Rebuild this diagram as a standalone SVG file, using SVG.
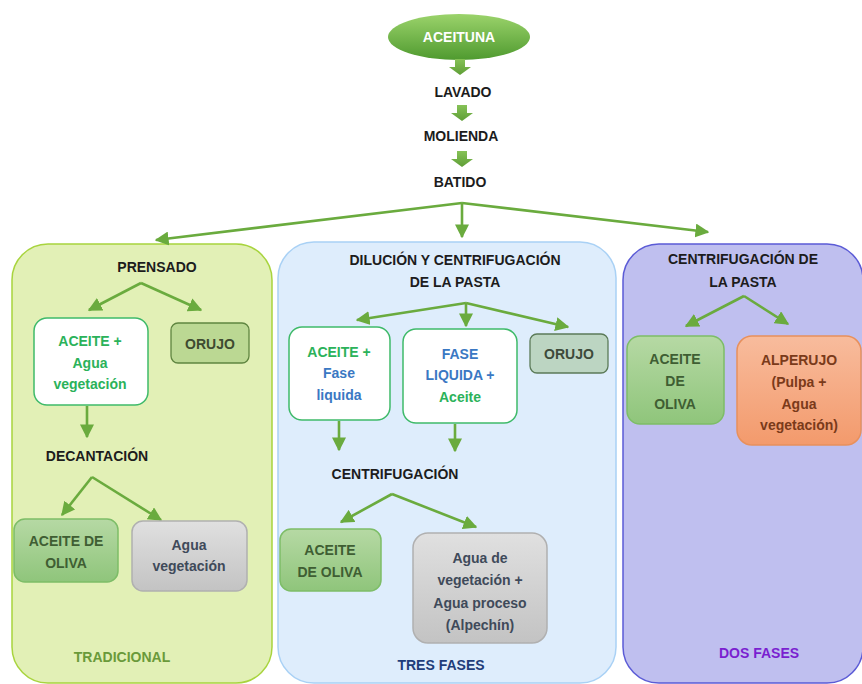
<svg xmlns="http://www.w3.org/2000/svg" width="862" height="684" viewBox="0 0 862 684">
<defs>
<linearGradient id="gEll" x1="0" y1="0" x2="0" y2="1"><stop offset="0" stop-color="#9bd36b"/><stop offset="1" stop-color="#4f9a2f"/></linearGradient>
<linearGradient id="gBlk" x1="0" y1="0" x2="0" y2="1"><stop offset="0" stop-color="#86c257"/><stop offset="1" stop-color="#5e9e36"/></linearGradient>
<linearGradient id="gGreen" x1="0" y1="0" x2="0" y2="1"><stop offset="0" stop-color="#b6d9a4"/><stop offset="1" stop-color="#8fc57b"/></linearGradient>
<linearGradient id="gGray" x1="0" y1="0" x2="0" y2="1"><stop offset="0" stop-color="#e0e0e0"/><stop offset="1" stop-color="#c3c3c3"/></linearGradient>
<linearGradient id="gOrange" x1="0" y1="0" x2="0" y2="1"><stop offset="0" stop-color="#f8bc9d"/><stop offset="1" stop-color="#f39a6c"/></linearGradient>
<marker id="ah" markerUnits="userSpaceOnUse" markerWidth="14" markerHeight="14" viewBox="0 0 10 10" refX="9" refY="5" orient="auto">
<path d="M0,0 L10,5 L0,10 z" fill="#6aab3e"/>
</marker>
<path id="blk" d="M-5,0 H5 V8 H11 L0,16 L-11,8 H-5 z"/>
</defs>
<style>
.t{font-family:"Liberation Sans",Arial,sans-serif;font-weight:bold;font-size:14px;text-anchor:middle;}
.dark{fill:#1c1c1c;}
.grn{fill:#2bb25a;}
.blu{fill:#3a78c3;}
.dgrn{fill:#3f5e33;}
.gtx{fill:#3f4a5a;}
.otx{fill:#7a3a1a;}
.con{stroke:#6aab3e;stroke-width:2.6;fill:none;marker-end:url(#ah);}
.wbox{fill:#ffffff;stroke:#3fba6a;stroke-width:1.5;}
.gbox{fill:url(#gGreen);stroke:#7dbd67;stroke-width:1.5;}
.graybox{fill:url(#gGray);stroke:#b0b0b0;stroke-width:1.5;}
</style>

<g id="panels">
<rect id="panel-tradicional" x="12" y="244" width="260" height="439" rx="36" fill="#e2f0b6" stroke="#a8d43e" stroke-width="1.5"/>
<rect id="panel-tres" x="278" y="242" width="338" height="441" rx="36" fill="#deedfc" stroke="#a9d1f5" stroke-width="1.5"/>
<rect id="panel-dos" x="623" y="244" width="240" height="439" rx="36" fill="#bfbfef" stroke="#5b5bd6" stroke-width="1.5"/>
</g>

<g id="top">
<g id="aceituna"><ellipse cx="459" cy="37" rx="71" ry="23" fill="url(#gEll)"/><text class="t" x="459" y="42" fill="#ffffff">ACEITUNA</text></g>
<g id="blockarrows" fill="url(#gBlk)">
<use href="#blk" x="460" y="59"/>
<use href="#blk" x="462" y="105"/>
<use href="#blk" x="462" y="151"/>
</g>
<g id="lavado"><text class="t dark" x="463" y="97">LAVADO</text></g>
<g id="molienda"><text class="t dark" x="461" y="141">MOLIENDA</text></g>
<g id="batido"><text class="t dark" x="460" y="187">BATIDO</text></g>
</g>

<g id="connectors">
<path class="con" d="M462,203 L156,240"/>
<path class="con" d="M462,203 L462,237"/>
<path class="con" d="M462,203 L708,232"/>
<path class="con" d="M141,283 L89,310"/>
<path class="con" d="M141,283 L201,310"/>
<path class="con" d="M87,406 L87,437"/>
<path class="con" d="M92,477 L62,515"/>
<path class="con" d="M92,477 L161,520"/>
<path class="con" d="M466,303 L357,320"/>
<path class="con" d="M466,303 L466,326"/>
<path class="con" d="M466,303 L568,327"/>
<path class="con" d="M339,421 L339,450"/>
<path class="con" d="M455,424 L455,451"/>
<path class="con" d="M392,494 L341,522"/>
<path class="con" d="M392,494 L476,527"/>
<path class="con" d="M744,296 L686,326"/>
<path class="con" d="M744,296 L788,324"/>
</g>

<g id="prensado"><text class="t dark" x="157" y="272">PRENSADO</text></g>
<g id="aceite-agua"><rect class="wbox" x="34" y="318" width="114" height="87" rx="13"/>
<text class="t grn" x="90" y="346">ACEITE +</text><text class="t grn" x="90" y="368">Agua</text><text class="t grn" x="90" y="389">vegetación</text></g>
<g id="orujo1"><rect x="171" y="323" width="78" height="40" rx="7" fill="#bbd893" stroke="#5f8540" stroke-width="1.3"/><text class="t" x="210" y="349" fill="#3e4a30">ORUJO</text></g>
<g id="decantacion"><text class="t dark" x="97" y="461">DECANTACIÓN</text></g>
<g id="aceite-oliva1"><rect class="gbox" x="14" y="519" width="104" height="63" rx="11"/>
<text class="t dgrn" x="66" y="546">ACEITE DE</text><text class="t dgrn" x="66" y="568">OLIVA</text></g>
<g id="agua-veg1"><rect class="graybox" x="132" y="521" width="115" height="70" rx="11"/>
<text class="t gtx" x="189" y="550">Agua</text><text class="t gtx" x="189" y="571">vegetación</text></g>
<g id="tradicional"><text class="t" x="122" y="662" fill="#6a9a3a">TRADICIONAL</text></g>

<g id="dilucion"><text class="t dark" x="455" y="265">DILUCIÓN Y CENTRIFUGACIÓN</text><text class="t dark" x="455" y="287">DE LA PASTA</text></g>
<g id="aceite-fase"><rect class="wbox" x="289" y="327" width="101" height="93" rx="13"/>
<text class="t grn" x="339" y="357">ACEITE +</text><text class="t blu" x="339" y="378">Fase</text><text class="t blu" x="339" y="400">liquida</text></g>
<g id="fase-liquida"><rect class="wbox" x="403" y="329" width="114" height="94" rx="13"/>
<text class="t blu" x="460" y="359">FASE</text><text class="t blu" x="460" y="380">LIQUIDA +</text><text class="t grn" x="460" y="402">Aceite</text></g>
<g id="orujo2"><rect x="530" y="334" width="78" height="39" rx="7" fill="#bcd5c2" stroke="#5b7a58" stroke-width="1.3"/><text class="t" x="569" y="359" fill="#3d4a3a">ORUJO</text></g>
<g id="centrifugacion"><text class="t dark" x="395" y="479">CENTRIFUGACIÓN</text></g>
<g id="aceite-oliva2"><rect class="gbox" x="280" y="529" width="101" height="62" rx="11"/>
<text class="t dgrn" x="330" y="555">ACEITE</text><text class="t dgrn" x="330" y="577">DE OLIVA</text></g>
<g id="alpechin"><rect class="graybox" x="413" y="533" width="134" height="110" rx="15"/>
<text class="t gtx" x="480" y="563">Agua de</text><text class="t gtx" x="480" y="585">vegetación +</text><text class="t gtx" x="480" y="608">Agua proceso</text><text class="t gtx" x="480" y="630">(Alpechín)</text></g>
<g id="tres-fases"><text class="t" x="441" y="670" fill="#1f3d7a">TRES  FASES</text></g>

<g id="centrif-pasta"><text class="t dark" x="743" y="264">CENTRIFUGACIÓN  DE</text><text class="t dark" x="743" y="287">LA PASTA</text></g>
<g id="aceite-oliva3"><rect class="gbox" x="627" y="336" width="97" height="88" rx="13"/>
<text class="t dgrn" x="675" y="364">ACEITE</text><text class="t dgrn" x="675" y="386">DE</text><text class="t dgrn" x="675" y="409">OLIVA</text></g>
<g id="alperujo"><rect x="737" y="336" width="124" height="109" rx="15" fill="url(#gOrange)" stroke="#e8905c" stroke-width="1.5"/>
<text class="t otx" x="799" y="365">ALPERUJO</text><text class="t otx" x="799" y="387">(Pulpa +</text><text class="t otx" x="799" y="409">Agua</text><text class="t otx" x="799" y="430">vegetación)</text></g>
<g id="dos-fases"><text class="t" x="759" y="658" fill="#7a1fd0">DOS FASES</text></g>
</svg>
